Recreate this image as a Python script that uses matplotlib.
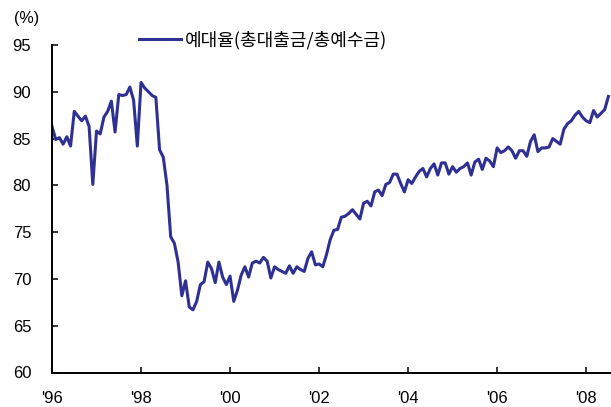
import matplotlib
matplotlib.use("Agg")
import matplotlib.pyplot as plt
import numpy as np

# Monthly loan-to-deposit ratio, Jan 1996 onward
ratio = [
    86.3, 84.9, 85.1, 84.4, 85.2, 84.2, 87.9, 87.4, 86.9, 87.4, 86.3, 80.1,
    85.8, 85.5, 87.3, 87.9, 89.0, 85.7, 89.7, 89.6, 89.7, 90.5, 89.1, 84.2,
    91.0, 90.4, 90.0, 89.6, 89.4, 83.8, 83.0, 80.0, 74.5, 73.8, 71.8, 68.2,
    69.8, 67.0, 66.7, 67.6, 69.4, 69.7, 71.8, 71.1, 69.6, 71.8, 70.2, 69.4,
    70.3, 67.6, 68.8, 70.4, 71.3, 70.2, 71.7, 71.9, 71.7, 72.3, 71.9, 70.1,
    71.3, 71.0, 70.8, 70.6, 71.4, 70.6, 71.3, 71.0, 70.8, 72.2, 72.9, 71.5,
    71.6, 71.3, 72.6, 74.2, 75.2, 75.3, 76.6, 76.7, 77.0, 77.4, 76.9, 76.4,
    78.1, 78.3, 77.8, 79.3, 79.5, 78.9, 80.1, 80.3, 81.2, 81.2, 80.2, 79.3,
    80.6, 80.2, 80.9, 81.5, 81.8, 80.9, 81.8, 82.3, 81.1, 82.4, 82.4, 81.2,
    82.0, 81.4, 81.8, 82.0, 82.4, 81.1, 82.5, 82.8, 81.7, 82.9, 82.6, 82.0,
    84.0, 83.5, 83.7, 84.1, 83.7, 82.9, 83.7, 83.7, 83.1, 84.7, 85.4, 83.6,
    84.0, 84.0, 84.1, 85.0, 84.7, 84.4, 86.0, 86.6, 86.9, 87.5, 87.9, 87.3,
    86.9, 86.7, 88.0, 87.3, 87.7, 88.1, 89.5,
]
months = np.arange(len(ratio))  # months since Jan 1996

tick_years = [1996, 1998, 2000, 2002, 2004, 2006, 2008]
tick_labels = ["'96", "'98", "'00", "'02", "'04", "'06", "'08"]
y_ticks = [60, 65, 70, 75, 80, 85, 90, 95]

series_label = "예대율(총대출금/총예수금)"
unit_label = "(%)"
line_color = "#2E3192"

plt.rcParams['font.family'] = ['Liberation Sans', 'DejaVu Sans']

fig = plt.figure(figsize=(6.11, 4.07), dpi=100)
ax = fig.add_axes([52/611, 34.5/407, 1 - 52/611, (372.5 - 45)/407])

line, = ax.plot(months, ratio, color=line_color, lw=2.2,
                solid_joinstyle='round', label=series_label)

ax.set_xlim(0, 150.7)
ax.set_ylim(60, 95)
ax.set_xticks([(y - 1996) * 12 for y in tick_years])
ax.set_xticklabels(tick_labels)
ax.set_yticks(y_ticks)

for s in ['top', 'right']:
    ax.spines[s].set_visible(False)
for s in ['left', 'bottom']:
    ax.spines[s].set_linewidth(1.4)
    ax.spines[s].set_color('black')

ax.tick_params(axis='both', direction='in', length=4.5, width=1.1,
               labelsize=12, colors='black')
ax.tick_params(axis='y', pad=15)
ax.tick_params(axis='x', pad=13)

fig.text(27/611, 1 - 19/407, unit_label, fontsize=11.5,
         ha='center', va='center')

leg = ax.legend(handles=[line], loc='center left',
                bbox_to_anchor=(139/611, 1 - 40/407),
                bbox_transform=fig.transFigure, frameon=False,
                borderpad=0, borderaxespad=0, handlelength=2.3,
                handletextpad=0.25,
                prop={'family': ['Noto Sans CJK KR', 'DejaVu Sans'],
                      'size': 13})

fig.savefig("out.png", dpi=100)
